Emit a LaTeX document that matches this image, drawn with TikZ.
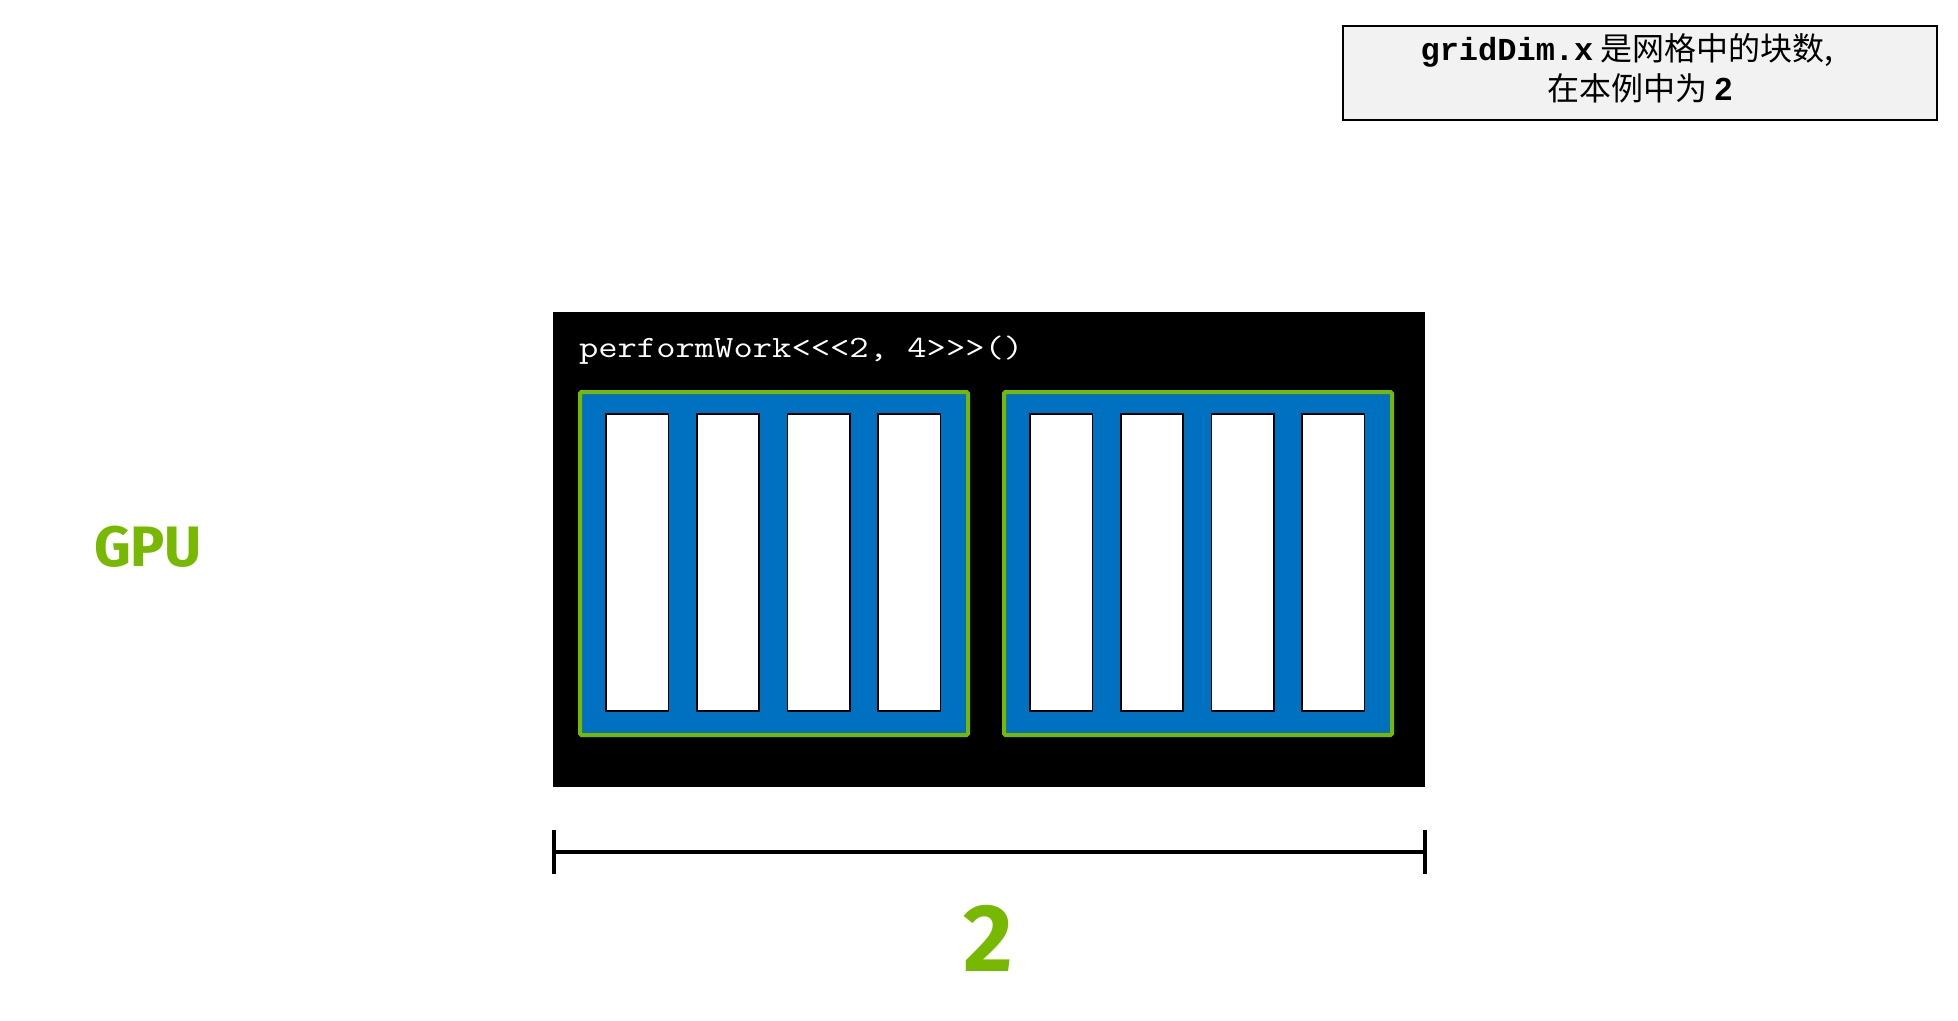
\documentclass[tikz,border=0pt]{standalone}
\usepackage{graphicx}
\usepackage{fontspec}
\setmainfont{Liberation Sans}
\newfontfamily\cjkfont{Noto Sans CJK SC}
\newfontfamily\codefont{Liberation Mono}
\newfontfamily\nvfont{Fira Sans}
\definecolor{nvgreen}{HTML}{76B900}
\definecolor{nvblue}{HTML}{0070C0}
\definecolor{notegray}{HTML}{F2F2F2}
\tikzset{
  box/.style={inner sep=0pt, outer sep=0pt, anchor=north west},
  gridbox/.style={box, fill=black, minimum width=872pt, minimum height=475pt},
  blockbox/.style={box, draw=nvgreen, fill=nvblue, line width=4pt, minimum width=388pt, minimum height=343pt, rounded corners=1.5pt},
  threadbox/.style={box, draw=black, fill=white, line width=1.6pt, minimum width=62.5pt, minimum height=297.5pt},
  notebox/.style={box, draw=black, fill=notegray, line width=2pt, minimum width=594pt, minimum height=94pt},
  lbl/.style={inner sep=0pt, outer sep=0pt},
  dimline/.style={line width=4.5pt, draw=black},
  dimtick/.style={line width=4pt, draw=black},
}
\begin{document}
\begin{tikzpicture}[x=1pt,y=-1pt]
\useasboundingbox (0,0) rectangle (1958,1020);
% grid
\node[gridbox] (grid) at (553,312) {};
\node[lbl, anchor=base west, text=white, font=\ttfamily\fontsize{31}{36}\selectfont] (code) at (579,357) {\scalebox{1.21}[1]{performWork<<<2, 4>>>()}};
\foreach \b/\bx in {1/580,2/1004}{
  \node[blockbox] (blk\b) at (\bx,392) {};
  \foreach \i in {0,...,3}{
    \node[threadbox] (thr\b\i) at ({\bx+26+90.7*\i},413.75) {};
  }
}
% dimension
\coordinate (dimL) at (554,852);
\coordinate (dimR) at (1425,852);
\draw[dimline] (dimL) -- (dimR);
\draw[dimtick] ([yshift=22pt]dimL) -- ([yshift=-22pt]dimL);
\draw[dimtick] ([yshift=22pt]dimR) -- ([yshift=-22pt]dimR);
\node[lbl, anchor=base, text=nvgreen, font=\nvfont\bfseries\fontsize{96}{100}\selectfont] (count) at (988,971) {2};
% GPU label
\node[lbl, anchor=base west, text=nvgreen, font=\nvfont\bfseries\fontsize{57}{60}\selectfont] (gpu) at (94,566) {GPU};
% note
\node[notebox] (note) at (1343,26) {};
\node[lbl, anchor=base, font=\cjkfont\fontsize{32}{38}\selectfont] (note1) at (1627,60) {{\codefont\bfseries gridDim.x} 是网格中的块数,};
\node[lbl, anchor=base, font=\cjkfont\fontsize{32}{38}\selectfont] (note2) at (1640,100) {在本例中为 {\rmfamily\bfseries 2}};
\end{tikzpicture}
\end{document}
